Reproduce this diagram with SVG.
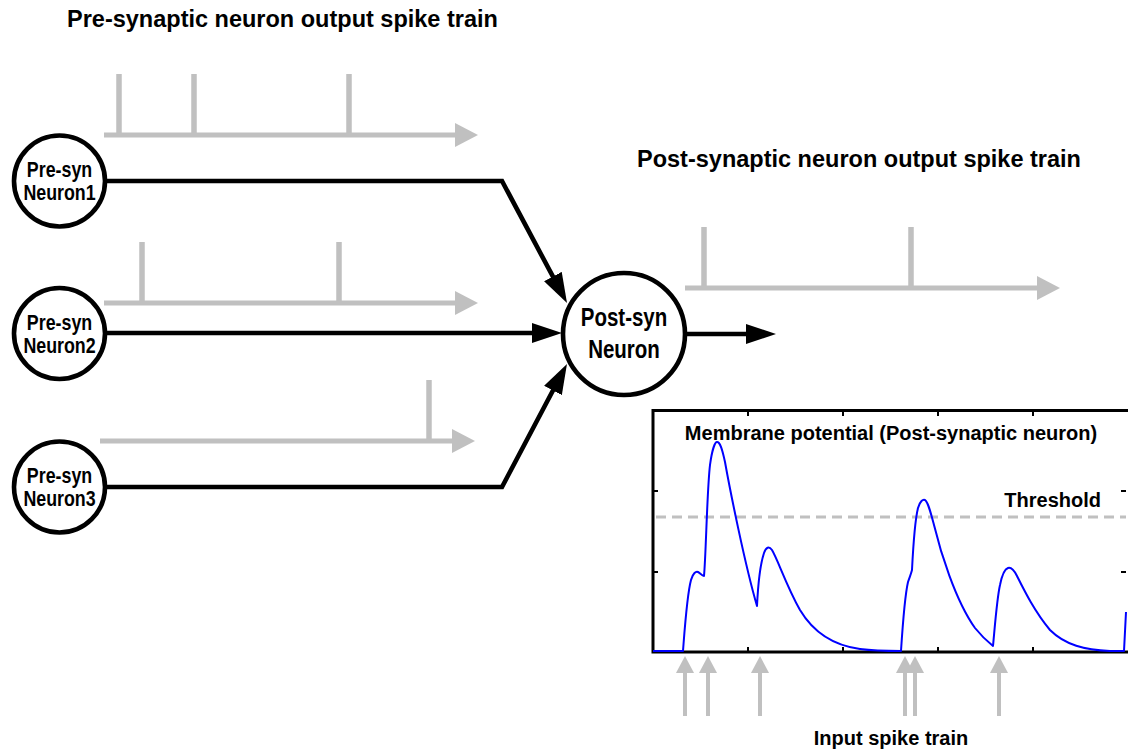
<svg xmlns="http://www.w3.org/2000/svg" width="1128" height="753" viewBox="0 0 1128 753">
  <style>
    text { font-family: "Liberation Sans", Arial, sans-serif; font-weight: bold; fill: #000; }
    .title { font-size: 23.5px; }
    .lbl { font-size: 20px; }
    .nlbl { font-size: 22px; text-anchor: middle; }
    .plbl { font-size: 25px; text-anchor: middle; }
    .neuron { fill: #fff; stroke: #000; stroke-width: 4.6; }
    .train { fill: none; stroke: #c0c0c0; stroke-width: 5; }
    .spike { fill: none; stroke: #c0c0c0; stroke-width: 5.5; }
    .wire { fill: none; stroke: #000; stroke-width: 4.6; stroke-linejoin: miter; }
    .inarrow { fill: none; stroke: #c0c0c0; stroke-width: 4; }
    .tick { stroke: #000; stroke-width: 2; }
  </style>
  <defs>
    <marker id="blackHead" viewBox="0 0 30 20" markerWidth="30" markerHeight="20" refX="20" refY="10" markerUnits="userSpaceOnUse" orient="auto">
      <path d="M0,0 L30,10 L0,20 z" fill="#000"/>
    </marker>
    <marker id="grayHead" viewBox="0 0 23 24" markerWidth="23" markerHeight="24" refX="13" refY="12" markerUnits="userSpaceOnUse" orient="auto">
      <path d="M0,0 L23,12 L0,24 z" fill="#c0c0c0"/>
    </marker>
    <marker id="inputHead" viewBox="0 0 17 18" markerWidth="17" markerHeight="18" refX="8" refY="9" markerUnits="userSpaceOnUse" orient="auto">
      <path d="M0,0 L17,9 L0,18 z" fill="#c0c0c0"/>
    </marker>
  </defs>

  <!-- headings -->
  <text class="title" x="67" y="27">Pre-synaptic neuron output spike train</text>
  <text class="title" x="637" y="167">Post-synaptic neuron output spike train</text>

  <!-- spike trains emitted by the pre-synaptic neurons -->
  <g id="train-pre1">
    <line class="train" x1="104" y1="135" x2="468" y2="135" marker-end="url(#grayHead)"/>
    <path class="spike" d="M119,74 V135 M194,74 V135 M349,74 V135"/>
  </g>
  <g id="train-pre2">
    <line class="train" x1="104" y1="303" x2="468" y2="303" marker-end="url(#grayHead)"/>
    <path class="spike" d="M142,242 V303 M339,242 V303"/>
  </g>
  <g id="train-pre3">
    <line class="train" x1="100" y1="441" x2="465" y2="441" marker-end="url(#grayHead)"/>
    <path class="spike" d="M429,380 V441"/>
  </g>
  <!-- spike train emitted by the post-synaptic neuron -->
  <g id="train-post">
    <line class="train" x1="685" y1="288" x2="1050" y2="288" marker-end="url(#grayHead)"/>
    <path class="spike" d="M704,227 V288 M911,227 V288"/>
  </g>

  <!-- synaptic connections -->
  <g id="connectors">
    <polyline class="wire" points="106,181 502,181 562.3,294.2" marker-end="url(#blackHead)"/>
    <line class="wire" x1="106" y1="333" x2="552" y2="333" marker-end="url(#blackHead)"/>
    <polyline class="wire" points="106,487 502,487 562.3,372.8" marker-end="url(#blackHead)"/>
    <line class="wire" x1="686" y1="334" x2="766" y2="334" marker-end="url(#blackHead)"/>
  </g>

  <!-- neurons -->
  <g id="pre-neuron-1">
    <circle class="neuron" cx="59.5" cy="181" r="45.5"/>
    <text class="nlbl" transform="matrix(0.81 0 0 1 59.5 0)" x="0" y="177.5">Pre-syn</text>
    <text class="nlbl" transform="matrix(0.81 0 0 1 59.5 0)" x="0" y="200.5">Neuron1</text>
  </g>
  <g id="pre-neuron-2">
    <circle class="neuron" cx="59.5" cy="333.5" r="45.5"/>
    <text class="nlbl" transform="matrix(0.81 0 0 1 59.5 0)" x="0" y="330">Pre-syn</text>
    <text class="nlbl" transform="matrix(0.81 0 0 1 59.5 0)" x="0" y="353">Neuron2</text>
  </g>
  <g id="pre-neuron-3">
    <circle class="neuron" cx="59.5" cy="487" r="45.5"/>
    <text class="nlbl" transform="matrix(0.81 0 0 1 59.5 0)" x="0" y="483.5">Pre-syn</text>
    <text class="nlbl" transform="matrix(0.81 0 0 1 59.5 0)" x="0" y="506.5">Neuron3</text>
  </g>
  <g id="post-neuron">
    <circle class="neuron" cx="624" cy="334" r="61"/>
    <text class="plbl" transform="matrix(0.82 0 0 1 624 0)" x="0" y="326">Post-syn</text>
    <text class="plbl" transform="matrix(0.82 0 0 1 624 0)" x="0" y="358">Neuron</text>
  </g>

  <!-- membrane potential plot -->
  <g id="membrane-plot">
    <rect x="653" y="410.5" width="477" height="241.5" fill="#fff" stroke="#000" stroke-width="3"/>
    <path class="tick" d="M748,411 v5 M843,411 v5 M938,411 v5 M1033,411 v5
                          M748,652 v-5 M843,652 v-5 M938,652 v-5 M1033,652 v-5
                          M653,491 h5 M653,572 h5 M1126,491 h-5 M1126,572 h-5"/>
    <line x1="656" y1="517" x2="1126" y2="517" stroke="#c0c0c0" stroke-width="3" stroke-dasharray="10,6"/>
    <path fill="none" stroke="#0000ff" stroke-width="2" stroke-linejoin="round"
          d="M653,651 L683,651
             C685,625 687,595 691,580 C693,573 696,571 698,572 C700,573 702,576 704,576
             C706,555 707,490 710,465 C712,450 715,442 717,442 C720,442 722,448 725,462
             C730,490 745,565 757,606
             C758,585 760,565 764,553 C766,547 769,546 772,550
             C778,560 786,585 800,610 C812,630 830,645 860,649 C875,651 890,651 901,651
             C903,620 905,595 908,582 C910,576 911,574 912,570
             C913,550 915,520 918,508 C920,501 923,499 925,500 C928,502 930,510 934,525
             C940,550 955,600 975,628 C983,638 988,642 993,646
             C995,625 997,598 1000,585 C1002,575 1005,569 1008,568 C1011,567 1014,570 1017,576
             C1025,592 1035,612 1050,630 C1065,645 1085,650 1110,651
             L1124,651 L1126,612"/>
    <text class="lbl" x="891" y="440" text-anchor="middle">Membrane potential (Post-synaptic neuron)</text>
    <text class="lbl" x="1101" y="507" text-anchor="end">Threshold</text>
  </g>

  <!-- input spikes arriving at the post-synaptic neuron -->
  <g id="input-spikes">
    <path class="inarrow" d="M685,716 V665" marker-end="url(#inputHead)"/>
    <path class="inarrow" d="M708,716 V665" marker-end="url(#inputHead)"/>
    <path class="inarrow" d="M760,716 V665" marker-end="url(#inputHead)"/>
    <path class="inarrow" d="M905,716 V665" marker-end="url(#inputHead)"/>
    <path class="inarrow" d="M915,716 V665" marker-end="url(#inputHead)"/>
    <path class="inarrow" d="M999,716 V665" marker-end="url(#inputHead)"/>
    <text class="lbl" x="891" y="745" text-anchor="middle">Input spike train</text>
  </g>
</svg>
